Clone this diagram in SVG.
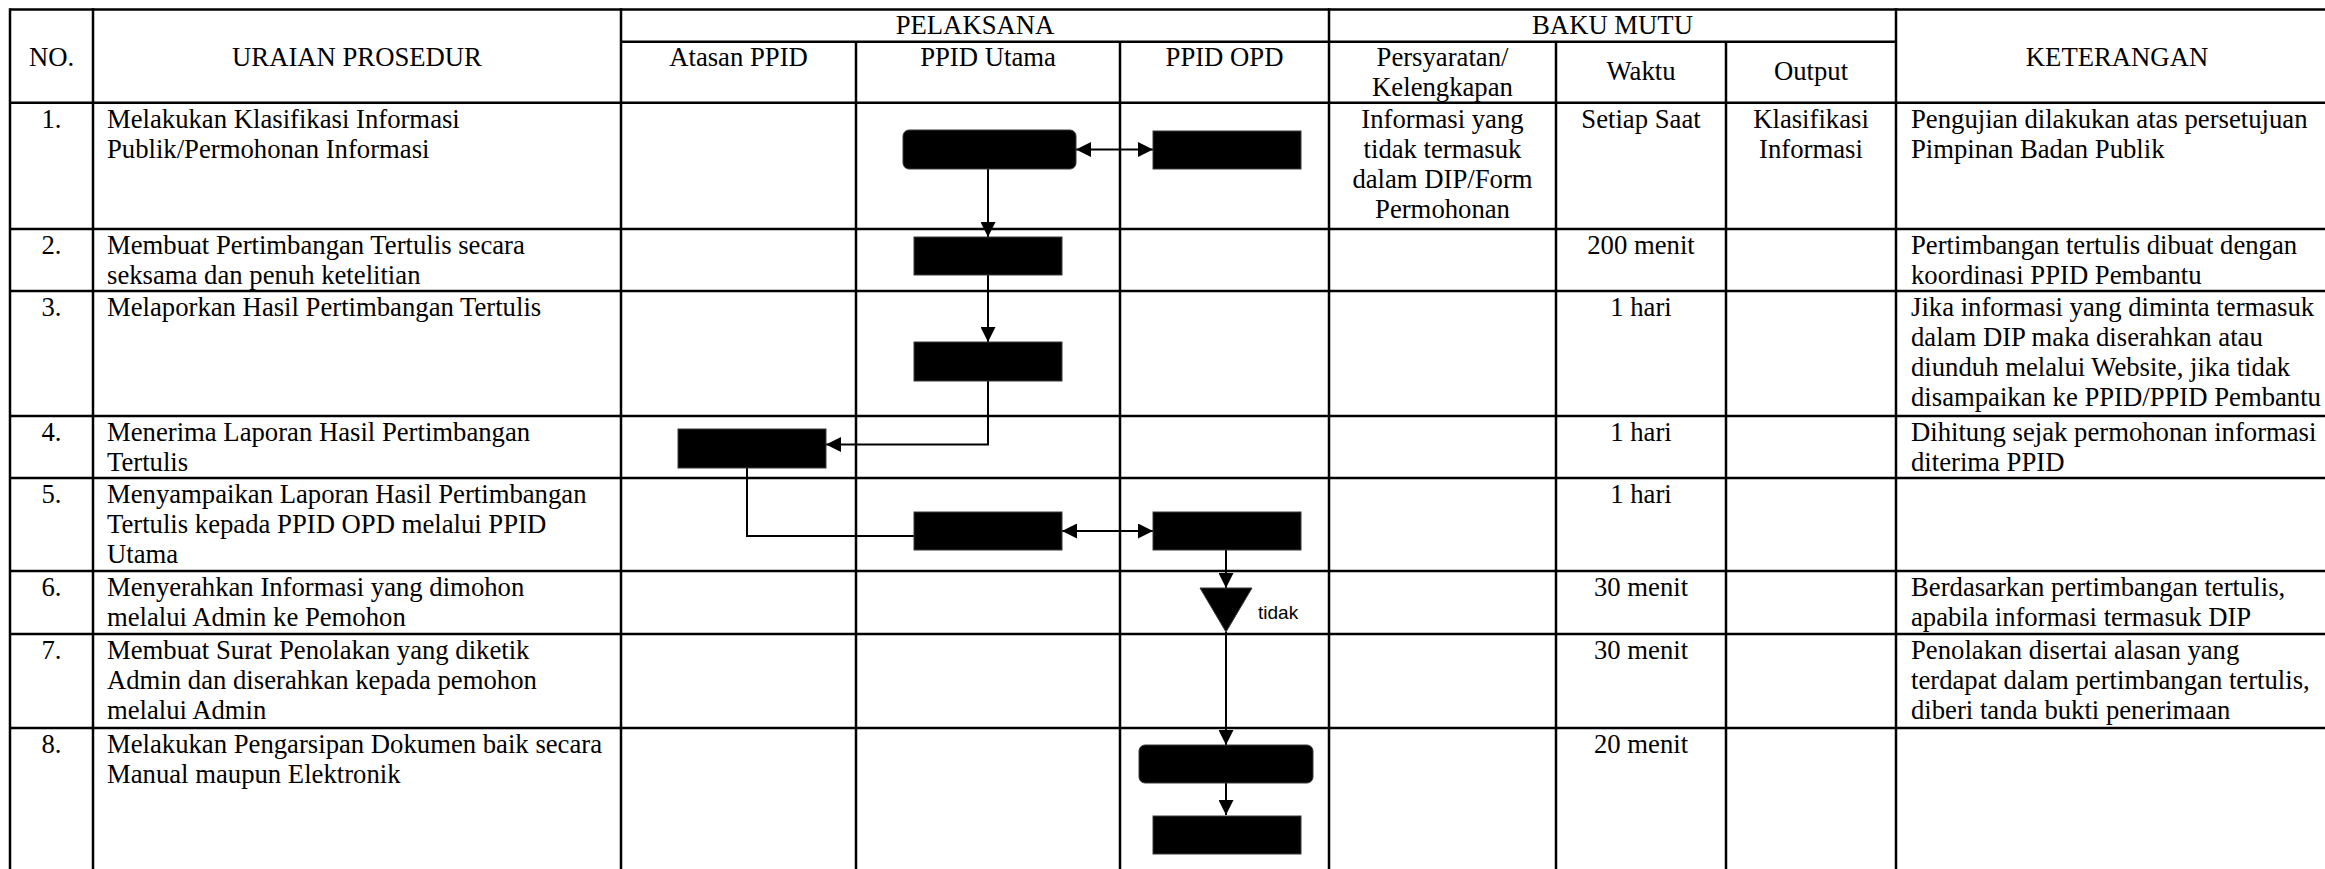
<svg xmlns="http://www.w3.org/2000/svg" width="2325" height="869" viewBox="0 0 2325 869">
<style>
.grid line{stroke:#000;stroke-width:2.5}
text{font-family:"Liberation Serif","Times New Roman",serif;font-size:26.7px;fill:#000}
.c{text-anchor:middle}
.box{fill:#000;stroke:#3a3a3a;stroke-width:1}
.con{stroke:#000;stroke-width:2;fill:none}
.lbl{font-family:"Liberation Sans",Arial,sans-serif;font-size:19px}
</style>
<defs>
<marker id="ah" markerUnits="userSpaceOnUse" markerWidth="15" markerHeight="15" refX="15" refY="7.5" orient="auto-start-reverse">
<path d="M0,0 L15,7.5 L0,15 Z" fill="#000"/>
</marker>
</defs>
<rect width="2325" height="869" fill="#fff"/>
<g id="table" class="grid">
<line x1="10" y1="9.5" x2="2325" y2="9.5"/>
<line x1="621" y1="41.7" x2="1896" y2="41.7"/>
<line x1="10" y1="102.7" x2="2325" y2="102.7"/>
<line x1="10" y1="229" x2="2325" y2="229"/>
<line x1="10" y1="291" x2="2325" y2="291"/>
<line x1="10" y1="416" x2="2325" y2="416"/>
<line x1="10" y1="478" x2="2325" y2="478"/>
<line x1="10" y1="571" x2="2325" y2="571"/>
<line x1="10" y1="634" x2="2325" y2="634"/>
<line x1="10" y1="728" x2="2325" y2="728"/>
<line x1="10" y1="8.3" x2="10" y2="869"/>
<line x1="93" y1="8.3" x2="93" y2="869"/>
<line x1="621" y1="8.3" x2="621" y2="869"/>
<line x1="856" y1="41.7" x2="856" y2="869"/>
<line x1="1120" y1="41.7" x2="1120" y2="869"/>
<line x1="1329" y1="8.3" x2="1329" y2="869"/>
<line x1="1556" y1="41.7" x2="1556" y2="869"/>
<line x1="1726" y1="41.7" x2="1726" y2="869"/>
<line x1="1896" y1="8.3" x2="1896" y2="869"/>
</g>
<g id="header">
<text class="c" x="51.5" y="66">NO.</text>
<text class="c" x="357" y="66">URAIAN PROSEDUR</text>
<text class="c" x="975" y="34">PELAKSANA</text>
<text class="c" x="1612.5" y="34">BAKU MUTU</text>
<text class="c" x="738.5" y="66">Atasan PPID</text>
<text class="c" x="988" y="66">PPID Utama</text>
<text class="c" x="1224.5" y="66">PPID OPD</text>
<text class="c" x="1442.5" y="66">Persyaratan/</text>
<text class="c" x="1442.5" y="96">Kelengkapan</text>
<text class="c" x="1641" y="80">Waktu</text>
<text class="c" x="1811" y="80">Output</text>
<text class="c" x="2117" y="66">KETERANGAN</text>
</g>
<g id="row1">
<text class="c" x="51.5" y="128">1.</text>
<text x="107" y="128">Melakukan Klasifikasi Informasi</text>
<text x="107" y="158">Publik/Permohonan Informasi</text>
<text class="c" x="1442.5" y="128">Informasi yang</text>
<text class="c" x="1442.5" y="158">tidak termasuk</text>
<text class="c" x="1442.5" y="188">dalam DIP/Form</text>
<text class="c" x="1442.5" y="218">Permohonan</text>
<text class="c" x="1641" y="128">Setiap Saat</text>
<text class="c" x="1811" y="128">Klasifikasi</text>
<text class="c" x="1811" y="158">Informasi</text>
<text x="1911" y="128">Pengujian dilakukan atas persetujuan</text>
<text x="1911" y="158">Pimpinan Badan Publik</text>
</g>
<g id="row2">
<text class="c" x="51.5" y="254">2.</text>
<text x="107" y="254">Membuat Pertimbangan Tertulis secara</text>
<text x="107" y="284">seksama dan penuh ketelitian</text>
<text class="c" x="1641" y="254">200 menit</text>
<text x="1911" y="254">Pertimbangan tertulis dibuat dengan</text>
<text x="1911" y="284">koordinasi PPID Pembantu</text>
</g>
<g id="row3">
<text class="c" x="51.5" y="316">3.</text>
<text x="107" y="316">Melaporkan Hasil Pertimbangan Tertulis</text>
<text class="c" x="1641" y="316">1 hari</text>
<text x="1911" y="316">Jika informasi yang diminta termasuk</text>
<text x="1911" y="346">dalam DIP maka diserahkan atau</text>
<text x="1911" y="376">diunduh melalui Website, jika tidak</text>
<text x="1911" y="406">disampaikan ke PPID/PPID Pembantu</text>
</g>
<g id="row4">
<text class="c" x="51.5" y="441">4.</text>
<text x="107" y="441">Menerima Laporan Hasil Pertimbangan</text>
<text x="107" y="471">Tertulis</text>
<text class="c" x="1641" y="441">1 hari</text>
<text x="1911" y="441">Dihitung sejak permohonan informasi</text>
<text x="1911" y="471">diterima PPID</text>
</g>
<g id="row5">
<text class="c" x="51.5" y="503">5.</text>
<text x="107" y="503">Menyampaikan Laporan Hasil Pertimbangan</text>
<text x="107" y="533">Tertulis kepada PPID OPD melalui PPID</text>
<text x="107" y="563">Utama</text>
<text class="c" x="1641" y="503">1 hari</text>
</g>
<g id="row6">
<text class="c" x="51.5" y="596">6.</text>
<text x="107" y="596">Menyerahkan Informasi yang dimohon</text>
<text x="107" y="626">melalui Admin ke Pemohon</text>
<text class="c" x="1641" y="596">30 menit</text>
<text x="1911" y="596">Berdasarkan pertimbangan tertulis,</text>
<text x="1911" y="626">apabila informasi termasuk DIP</text>
</g>
<g id="row7">
<text class="c" x="51.5" y="659">7.</text>
<text x="107" y="659">Membuat Surat Penolakan yang diketik</text>
<text x="107" y="689">Admin dan diserahkan kepada pemohon</text>
<text x="107" y="719">melalui Admin</text>
<text class="c" x="1641" y="659">30 menit</text>
<text x="1911" y="659">Penolakan disertai alasan yang</text>
<text x="1911" y="689">terdapat dalam pertimbangan tertulis,</text>
<text x="1911" y="719">diberi tanda bukti penerimaan</text>
</g>
<g id="row8">
<text class="c" x="51.5" y="753">8.</text>
<text x="107" y="753">Melakukan Pengarsipan Dokumen baik secara</text>
<text x="107" y="783">Manual maupun Elektronik</text>
<text class="c" x="1641" y="753">20 menit</text>
</g>
<g id="connectors" class="con">
<line x1="1076" y1="149.5" x2="1153" y2="149.5" marker-start="url(#ah)" marker-end="url(#ah)"/>
<line x1="988" y1="169" x2="988" y2="237" marker-end="url(#ah)"/>
<line x1="988" y1="275" x2="988" y2="342" marker-end="url(#ah)"/>
<path d="M988,381 V444.5 H826" marker-end="url(#ah)"/>
<path d="M747,468 V536 H914"/>
<line x1="1062" y1="531" x2="1153" y2="531" marker-start="url(#ah)" marker-end="url(#ah)"/>
<line x1="1226" y1="550" x2="1226" y2="588" marker-end="url(#ah)"/>
<line x1="1226" y1="632" x2="1226" y2="745" marker-end="url(#ah)"/>
<line x1="1226" y1="783" x2="1226" y2="815" marker-end="url(#ah)"/>
</g>
<g id="n1a"><rect class="box" x="903" y="130" width="173" height="39" rx="6"/></g>
<g id="n1b"><rect class="box" x="1153" y="131" width="148" height="38"/></g>
<g id="n2"><rect class="box" x="914" y="237" width="148" height="38"/></g>
<g id="n3"><rect class="box" x="914" y="342" width="148" height="39"/></g>
<g id="n4"><rect class="box" x="678" y="429" width="148" height="39"/></g>
<g id="n5a"><rect class="box" x="914" y="512" width="148" height="38"/></g>
<g id="n5b"><rect class="box" x="1153" y="512" width="148" height="38"/></g>
<g id="n6"><polygon class="box" points="1200,588 1252,588 1226,632"/><text class="lbl" x="1258" y="619">tidak</text></g>
<g id="n8a"><rect class="box" x="1139" y="745" width="174" height="38" rx="6"/></g>
<g id="n8b"><rect class="box" x="1153" y="816" width="148" height="38"/></g>
</svg>
